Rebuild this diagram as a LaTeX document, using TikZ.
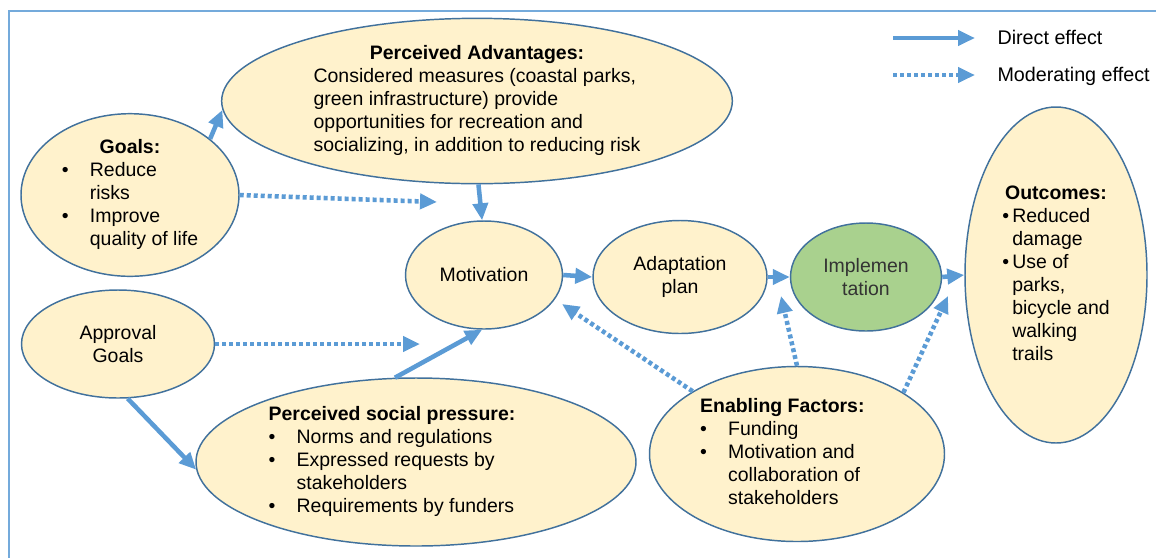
\documentclass[tikz,border=0pt]{standalone}
\usepackage{fontspec}
\setmainfont{Liberation Sans}
\usetikzlibrary{shapes.geometric,arrows.meta}

\definecolor{arrowblue}{RGB}{91,155,213}
\definecolor{ovalfill}{RGB}{255,242,204}
\definecolor{ovaldraw}{RGB}{65,113,156}
\definecolor{implfill}{RGB}{169,209,142}

\newcommand{\hd}[1]{\multicolumn{1}{@{}c@{}}{\textbf{#1}}}
\newcommand{\bu}{\makebox[21pt][l]{\textbullet}}
\newcommand{\bi}{\hspace*{21pt}}
\newcommand{\bs}{\makebox[7.5pt][l]{\textbullet}}
\newcommand{\bsi}{\hspace*{7.5pt}}

\tikzset{every picture/.style={line width=0.75pt}}
\tikzset{
  oval/.style={ellipse, draw=ovaldraw, line width=1.1pt, fill=ovalfill, inner sep=0pt,
    font=\fontsize{14.6}{17.25}\selectfont},
  direct/.style={draw=arrowblue, line width=3.4pt, -{Triangle[length=12.75pt,width=11.25pt]}},
  moder/.style={direct, dash pattern=on 3pt off 2.25pt},
  legtext/.style={anchor=west, inner sep=0pt, font=\fontsize{14.8}{17.25}\selectfont}
}

\begin{document}
\begin{tikzpicture}[x=0.75pt,y=0.75pt,yscale=-1,xscale=1]
	\useasboundingbox (0,0) rectangle (1156,558);

	%Frame
	\draw [arrowblue!85, line width=1.5pt] (1156,11) -- (9,11) -- (9,558) ;

	%Shape: Ellipse [goals]
	\node [oval, minimum width=163.5pt, minimum height=120pt] (goals) at (130,195)
	  {\begin{tabular}{@{}l@{}}\hd{Goals:}\\ \bu Reduce\\ \bi risks\\ \bu Improve\\ \bi quality of life\end{tabular}};
	%Shape: Ellipse [advantages]
	\node [oval, minimum width=383pt, minimum height=124pt] (adv) at (477,101)
	  {\begin{tabular}{@{}l@{}}\hd{Perceived Advantages:}\\ Considered measures (coastal parks,\\ green infrastructure) provide\\ opportunities for recreation and\\ socializing, in addition to reducing risk\end{tabular}};
	%Shape: Ellipse [motivation]
	\node [oval, minimum width=117.75pt, minimum height=81pt] (motiv) at (484,275) {Motivation};
	%Shape: Ellipse [plan]
	\node [oval, minimum width=130.5pt, minimum height=84.75pt, align=center] (plan) at (680,277) {Adaptation\\ plan};
	%Shape: Ellipse [implementation]
	\node [oval, fill=implfill, text=black!80, minimum width=113.25pt, minimum height=81pt, align=center] (impl) at (866,277) {Implemen\\ tation};
	%Shape: Ellipse [outcomes]
	\node [oval, minimum width=136.5pt, minimum height=252pt] (outc) at (1056,275)
	  {\begin{tabular}{@{}l@{}}\hd{Outcomes:}\\ \bs Reduced\\ \bsi damage\\ \bs Use of\\ \bsi parks,\\ \bsi bicycle and\\ \bsi walking\\ \bsi trails\end{tabular}};
	%Shape: Ellipse [approval]
	\node [oval, minimum width=144.75pt, minimum height=81pt, align=center] (appr) at (118,344) {Approval\\ Goals};
	%Shape: Ellipse [social pressure]
	\node [oval, minimum width=330pt, minimum height=126pt] (press) at (416,462)
	  {\begin{tabular}{@{}l@{}}\textbf{Perceived social pressure:}\\ \bu Norms and regulations\\ \bu Expressed requests by\\ \bi stakeholders\\ \bu Requirements by funders\end{tabular}\hspace*{36pt}};
	%Shape: Ellipse [enabling]
	\node [oval, minimum width=221.25pt, minimum height=131.25pt] (enab) at (797,454)
	  {\begin{tabular}{@{}l@{}}\textbf{Enabling Factors:}\\ \bu Funding\\ \bu Motivation and\\ \bi collaboration of\\ \bi stakeholders\end{tabular}\hspace*{22pt}};

	%free ends
	\coordinate (gm) at (437,202);
	\coordinate (am) at (420,344);
	\coordinate (em) at (562,304);
	\coordinate (ep) at (781,296);
	\coordinate (eo) at (948,296);
	\coordinate (ld1) at (893,38);
	\coordinate (ld2) at (975,38);
	\coordinate (lm1) at (893,75);
	\coordinate (lm2) at (975,75);

	%Straight Lines
	\draw [direct] (goals.35) -- (adv.182) ;
	\draw [direct] (adv.271) -- (motiv.92) ;
	\draw [direct] (motiv.east) -- (plan.west) ;
	\draw [direct] (plan.east) -- (impl.west) ;
	\draw [direct] (impl.east) -- (outc.west) ;
	\draw [direct] (appr.280) -- (press.182) ;
	\draw [direct] (press.104) -- (motiv.268) ;
	%Dotted Lines
	\draw [moder] (goals.east) -- (gm) ;
	\draw [moder] (appr.east) -- (am) ;
	\draw [moder] (enab.149) -- (em) ;
	\draw [moder] (enab.north) -- (ep) ;
	\draw [moder] (enab.30) -- (eo) ;

	% Legend
	\draw [direct] (ld1) -- (ld2) ;
	\draw [moder] (lm1) -- (lm2) ;
	% Text Node
	\node [legtext] (ldt) at (997,37) {Direct effect};
	% Text Node
	\node [legtext] (lmt) at (997,76) {Moderating effect};

\end{tikzpicture}
\end{document}
